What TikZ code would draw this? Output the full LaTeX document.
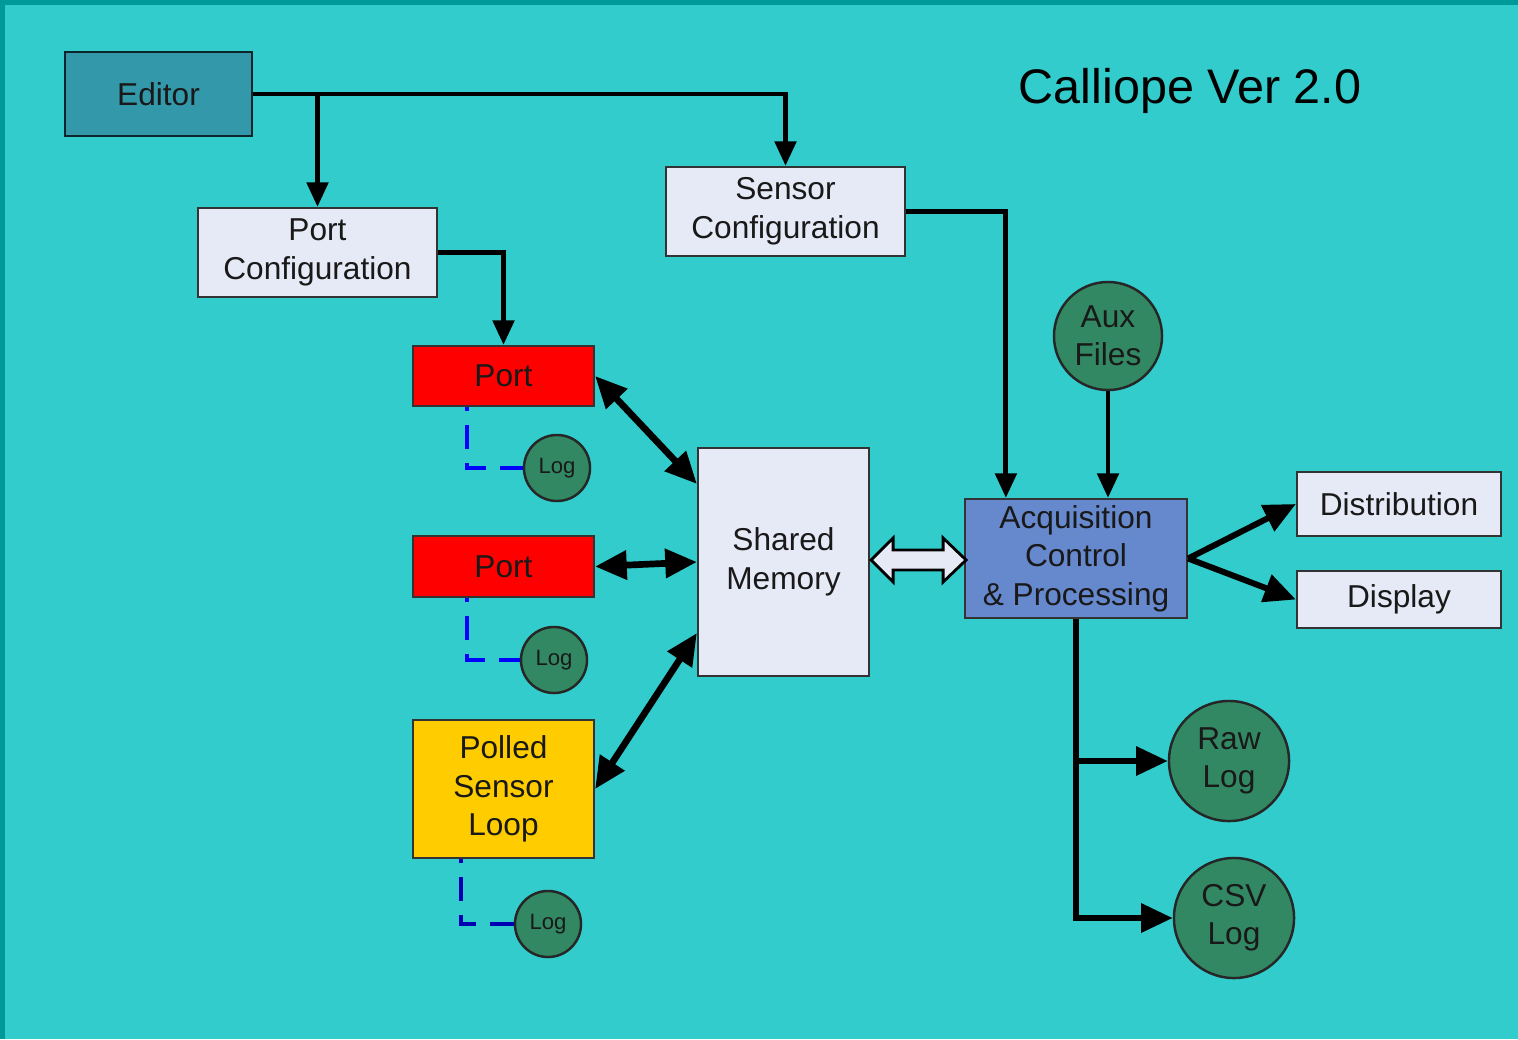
\documentclass[tikz,border=0pt]{standalone}
\usepackage{fontspec}
\setmainfont{Liberation Sans}
\usetikzlibrary{arrows.meta,calc}
\definecolor{bgc}{RGB}{51,204,204}
\definecolor{bgedge}{RGB}{0,153,153}
\definecolor{edfill}{RGB}{51,153,170}
\definecolor{wfill}{RGB}{230,234,246}
\definecolor{acqfill}{RGB}{102,136,204}
\definecolor{grn}{RGB}{51,136,100}
\definecolor{portred}{RGB}{255,0,0}
\definecolor{polly}{RGB}{255,204,0}
\definecolor{txt}{RGB}{25,25,25}
\tikzset{
  box/.style={draw=black!80, line width=0.6pt, align=center, inner sep=0pt,
    font=\fontsize{9}{11}\selectfont, text=txt},
  wbox/.style={box, fill=wfill},
  circ/.style={circle, draw=black!85, line width=0.7pt, fill=grn, align=center,
    inner sep=0pt, font=\fontsize{9}{10.8}\selectfont, text=txt},
  logc/.style={circ, minimum size=0.66cm, font=\fontsize{6.3}{7}\selectfont},
  arr/.style={line width=1.4pt, -{Triangle[length=7pt,width=6pt]}},
  barr/.style={line width=1.9pt, {Triangle[length=9pt,width=8pt]}-{Triangle[length=9pt,width=8pt]}},
  farr/.style={line width=1.7pt, -{Triangle[length=9pt,width=8pt]}},
  dsh/.style={line width=0.9pt, dash pattern=on 6.8pt off 4pt, dash phase=5.7pt},
}
\begin{document}
\begin{tikzpicture}[x=0.01cm,y=-0.01cm]
\fill[bgedge] (0,0) rectangle (1518,1039);
\fill[bgc] (5,5) rectangle (1518,1039);
\useasboundingbox (0,0) rectangle (1518,1039);

\node[font=\fontsize{13.8}{16}\selectfont, anchor=base] (title) at (1190,103) {Calliope Ver 2.0};

\node[box, fill=edfill, draw=black!75!edfill, minimum width=1.87cm, minimum height=0.84cm] (editor) at (158.5,94) {Editor};
\node[wbox, minimum width=2.39cm, minimum height=0.89cm] (portcfg) at (317.5,252.5) {Port\\Configuration};
\node[wbox, minimum width=2.39cm, minimum height=0.89cm] (sensorcfg) at (785.5,211.5) {Sensor\\Configuration};
\node[box, fill=portred, minimum width=1.81cm, minimum height=0.60cm] (port1) at (503.5,376) {Port};
\node[box, fill=portred, minimum width=1.81cm, minimum height=0.61cm] (port2) at (503.5,566.5) {Port};
\node[box, fill=polly, minimum width=1.81cm, minimum height=1.38cm] (polled) at (503.5,789) {Polled\\Sensor\\Loop};
\node[wbox, minimum width=1.71cm, minimum height=2.28cm] (shm) at (783.5,562) {Shared\\Memory};
\node[box, fill=acqfill, minimum width=2.22cm, minimum height=1.19cm] (acq) at (1076,558.5) {Acquisition\\Control\\\& Processing};
\node[wbox, minimum width=2.04cm, minimum height=0.64cm] (dist) at (1399,504) {Distribution};
\node[wbox, minimum width=2.04cm, minimum height=0.57cm] (disp) at (1399,599.5) {Display};
\node[circ, minimum size=1.08cm] (aux) at (1108,336) {Aux\\Files};
\node[circ, minimum size=1.20cm] (raw) at (1229,761) {Raw\\Log};
\node[circ, minimum size=1.20cm] (csv) at (1234,918) {CSV\\Log};
\node[logc] (log1) at (557,468) {Log};
\node[logc] (log2) at (554,660) {Log};
\node[logc] (log3) at (548,924) {Log};

% editor connectors
\draw[arr] (editor.east) -| (sensorcfg.north);
\draw[arr] (editor.east -| portcfg.north) -- (portcfg.north);
\draw[arr] (portcfg.east) -| (port1.north);
\draw[arr] (sensorcfg.east) -| ([xshift=0.42cm]acq.north west);
\draw[arr] (aux.south) -- (aux.south |- acq.north);

% ports <-> shared memory
\draw[barr] (port1.east) -- ([yshift=-0.37cm]shm.north west);
\draw[barr] (port2.east) -- (shm.west);
\draw[barr] (polled.east) -- ([yshift=0.44cm]shm.south west);

% shared memory <-> acquisition (open double arrow)
\draw[fill=wfill, line width=0.8pt, line join=miter]
  ($(shm.east)+(1,-2)$) -- ++(22,-22) -- ++(0,12) -- ++(50,0) -- ++(0,-12)
  -- ++(23,22) -- ++(-23,22) -- ++(0,-12) -- ++(-50,0) -- ++(0,12) -- cycle;

% acquisition outputs
\draw[farr] (acq.east) -- (dist.west);
\draw[farr] (acq.east) -- (disp.west);
\draw[farr] (acq.south) |- (csv.west);
\draw[farr] (acq.south |- raw.west) -- (raw.west);

% log links
\draw[dsh, blue] ([xshift=-0.365cm]port1.south) |- (log1.west);
\draw[dsh, blue] ([xshift=-0.365cm]port2.south) |- (log2.west);
\draw[dsh, blue!70!black] ([xshift=-0.425cm]polled.south) |- (log3.west);
\end{tikzpicture}
\end{document}
